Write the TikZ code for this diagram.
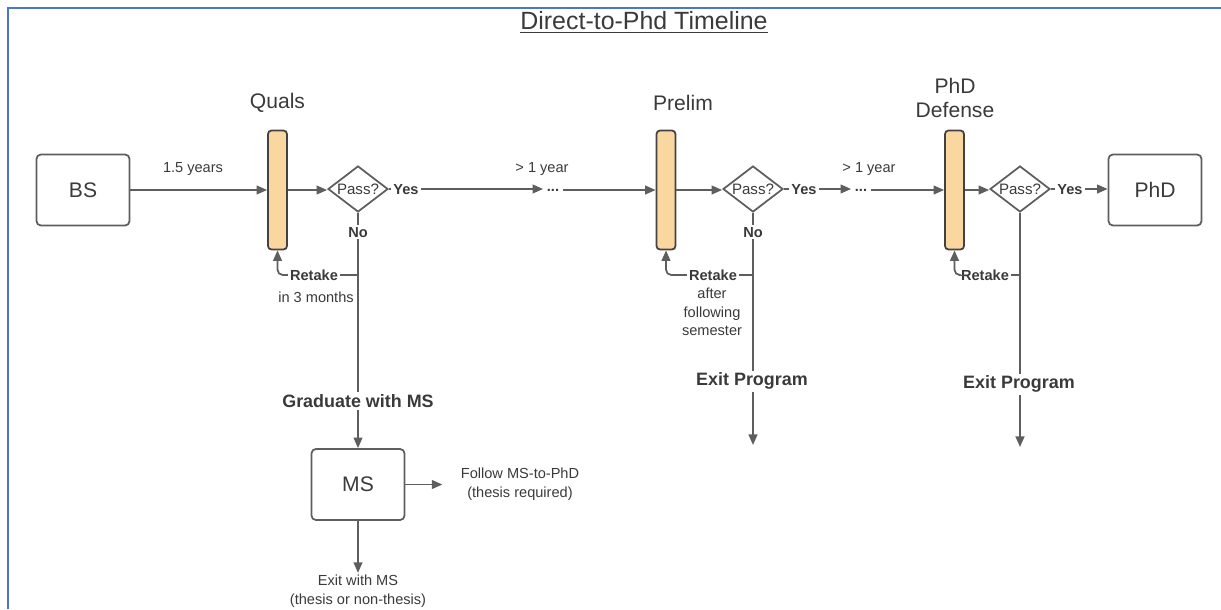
\documentclass[tikz,border=0pt]{standalone}
\usepackage{fontspec}
\setmainfont{Liberation Sans}
\usetikzlibrary{shapes.geometric, arrows.meta}

\definecolor{linegray}{HTML}{5E5E5E}
\definecolor{textgray}{HTML}{3A3A3A}
\definecolor{barfill}{HTML}{FAD6A0}
\definecolor{frameblue}{HTML}{4A78C8}

\tikzset{
  box/.style={draw=linegray, line width=1pt, rounded corners=2.5pt, minimum width=1.86cm, minimum height=1.42cm, font=\fontsize{12}{14}\selectfont, text=textgray},
  bar/.style={draw=linegray!70!black, line width=1pt, fill=barfill, rounded corners=2pt, minimum width=0.38cm, minimum height=2.38cm, inner sep=0pt},
  decision/.style={diamond, aspect=1.3, draw=linegray, line width=1pt, minimum width=1.2cm, minimum height=0.92cm, inner sep=0pt, font=\fontsize{8.6}{10}\selectfont, text=textgray},
  arr/.style={-{Triangle[length=6pt,width=5pt]}, draw=linegray, line width=1pt},
  link/.style={draw=linegray, line width=1pt},
  small/.style={font=\fontsize{8.3}{10.5}\selectfont, text=textgray, inner sep=1pt, align=center},
  tag/.style={font=\fontsize{8.3}{10}\selectfont\bfseries, text=textgray, inner sep=1pt, text height=6pt, text depth=0pt},
  dotsmark/.style={font=\fontsize{8.3}{10}\selectfont\bfseries, text=textgray, inner sep=2pt},
  bigtag/.style={font=\fontsize{10.2}{12}\selectfont\bfseries, text=textgray, inner sep=1pt},
  heading/.style={font=\fontsize{12}{14}\selectfont, text=textgray, align=center}
}

\begin{document}
\begin{tikzpicture}[x=0.02cm, y=-0.02cm]
 \useasboundingbox (0,0) rectangle (1221,609);
 \draw [frameblue, line width=1.5pt] (8,609) -- (8,8) -- (1221,8);

 \node [font=\fontsize{14.2}{16}\selectfont, text=textgray] (title) at (644,22) {\underline{Direct-to-Phd Timeline}};

 % main line
 \node [box] (bs) at (83,190) {BS};
 \node [bar] (quals) at (277.5,190) {};
 \node [heading] (qualsl) at (277.5,103) {Quals};
 \node [decision] (d1) at (358,189) {Pass?};
 \node [tag] (yes1) at (406,189) {Yes};
 \node [dotsmark] (dots1) at (553,190) {...};
 \node [bar] (prelim) at (666,190) {};
 \node [heading] (preliml) at (683,103) {Prelim};
 \node [decision] (d2) at (753,189) {Pass?};
 \node [tag] (yes2) at (804,189) {Yes};
 \node [dotsmark] (dots2) at (861,190) {...};
 \node [bar] (defense) at (954.5,190) {};
 \node [heading] (defensel) at (955,98) {PhD\\Defense};
 \node [decision] (d3) at (1020,189) {Pass?};
 \node [tag] (yes3) at (1070,189) {Yes};
 \node [box] (phd) at (1155,190) {PhD};

 \node [small] (t1) at (193,169) {1.5 years};
 \node [small] (t2) at (542,169) {> 1 year};
 \node [small] (t3) at (869,169) {> 1 year};

 \draw [arr] (bs) -- (quals);
 \draw [arr] (quals) -- (quals -| d1.west);
 \draw [link] (d1) -- (yes1);
 \draw [arr] (yes1) -- (yes1 -| dots1.west);
 \draw [arr] (dots1) -- (prelim);
 \draw [arr] (prelim) -- (prelim -| d2.west);
 \draw [link] (d2) -- (yes2);
 \draw [arr] (yes2) -- (yes2 -| dots2.west);
 \draw [arr] (dots2) -- (defense);
 \draw [arr] (defense) -- (defense -| d3.west);
 \draw [link] (d3) -- (yes3);
 \draw [arr] (yes3) -- (yes3 -| phd.west);

 % quals fail
 \node [tag] (no1) at (358,232) {No};
 \coordinate (r1) at (358,275);
 \node [tag] (retake1) at (314,275) {Retake};
 \node [small] (wait1) at (316,297) {in 3 months};
 \node [bigtag] (grad) at (358,401) {Graduate with MS};
 \node [box] (ms) at (358,484.5) {MS};
 \node [small] (follow) at (520,484) {Follow MS-to-PhD\\(thesis required)};
 \node [small] (exitms) at (358,591) {Exit with MS\\(thesis or non-thesis)};

 \draw [link] (d1) -- (no1);
 \draw [link] (no1) -- (grad);
 \draw [link] (r1) -- (retake1);
 \draw [arr, rounded corners=3pt] (retake1.west) -| (quals.south);
 \draw [arr] (grad) -- (ms);
 \draw [arr] (ms.east) -- ++(37,0) coordinate (f1);
 \draw [arr] (ms) -- (exitms);

 % prelim fail
 \node [tag] (no2) at (753,232) {No};
 \coordinate (r2) at (753,275);
 \node [tag] (retake2) at (713,275) {Retake};
 \node [small] (wait2) at (712,312) {after\\following\\semester};
 \node [bigtag] (exit2) at (752,381) {Exit Program};
 \coordinate (out2) at (753,445);

 \draw [link] (d2) -- (no2);
 \draw [link] (no2) -- (exit2.north -| no2);
 \draw [link] (r2) -- (retake2);
 \draw [arr, rounded corners=3pt] (retake2.west) -| (prelim.south);
 \draw [arr] (exit2.south -| out2) -- (out2);

 % defense fail
 \coordinate (r3) at (1020,275);
 \node [tag] (retake3) at (985,275) {Retake};
 \node [bigtag] (exit3) at (1019,384) {Exit Program};
 \coordinate (out3) at (1020,447);

 \draw [link] (d3) -- (exit3.north -| d3);
 \draw [link] (r3) -- (retake3);
 \draw [arr, rounded corners=3pt] (retake3.west) -| (defense.south);
 \draw [arr] (exit3.south -| out3) -- (out3);
\end{tikzpicture}
\end{document}
